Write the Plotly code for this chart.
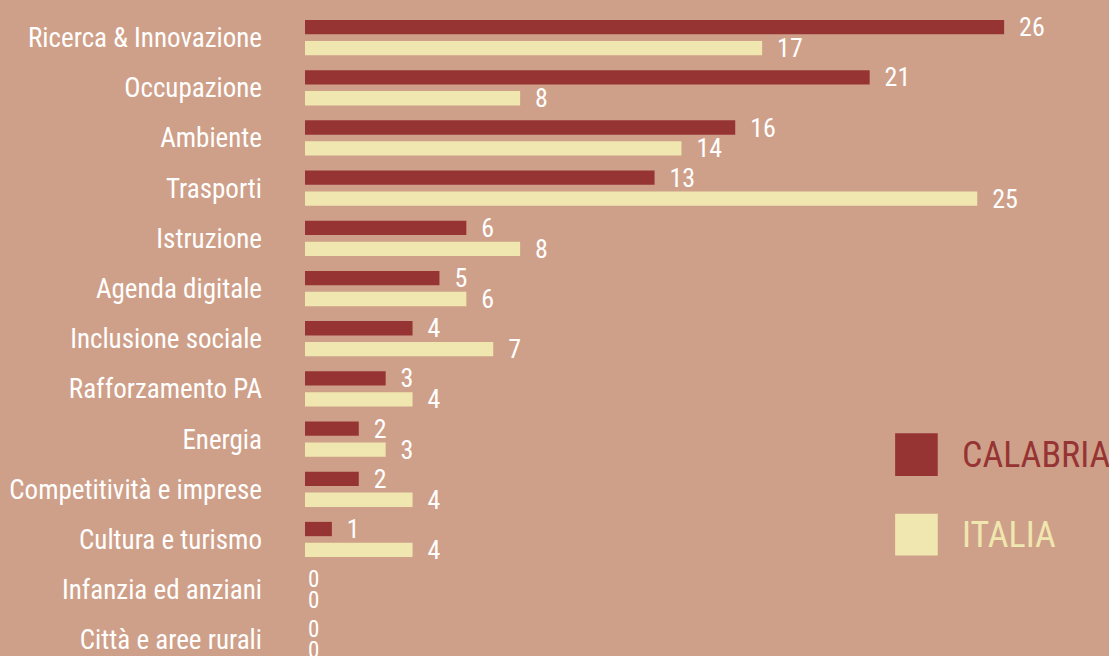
import plotly.graph_objects as go

categories = ["Ricerca & Innovazione", "Occupazione", "Ambiente", "Trasporti", "Istruzione",
              "Agenda digitale", "Inclusione sociale", "Rafforzamento PA", "Energia",
              "Competitività e imprese", "Cultura e turismo", "Infanzia ed anziani",
              "Città e aree rurali"]
calabria = [26, 21, 16, 13, 6, 5, 4, 3, 2, 2, 1, 0, 0]
italia = [17, 8, 14, 25, 8, 6, 7, 4, 3, 4, 4, 0, 0]
series_names = ["CALABRIA", "ITALIA"]

BG = "#CFA089"
RED = "#963434"
YEL = "#F0E6AF"
FONT = "Roboto Condensed, Liberation Sans, sans-serif"

def labels(vals):
    return [("\u00a0\u00a0" + str(v)) if v else str(v) for v in vals]

def label_sizes(vals):
    return [26 if v else 23 for v in vals]

fig = go.Figure()
for name, vals, col in [(series_names[0], calabria, RED), (series_names[1], italia, YEL)]:
    fig.add_trace(go.Bar(
        y=categories, x=vals, orientation="h", name=name,
        marker=dict(color=col, line=dict(width=0)),
        text=labels(vals), textposition="outside", cliponaxis=False,
        constraintext="none",
        textfont=dict(color="white", size=label_sizes(vals), family=FONT),
        showlegend=False, hoverinfo="x+y",
    ))

fig.update_layout(
    width=1109, height=656, autosize=False,
    margin=dict(l=305, r=0, t=0, b=0, pad=0),
    paper_bgcolor=BG, plot_bgcolor=BG,
    barmode="group", bargap=0.167, bargroupgap=0.316,
    font=dict(family=FONT, color="white", size=27),
    xaxis=dict(range=[0, 29.9], showgrid=False, zeroline=False, showticklabels=False,
               showline=False, fixedrange=True),
    yaxis=dict(categoryorder="array", categoryarray=categories,
               range=[12.242, -0.749], showgrid=False, zeroline=False, showline=False,
               ticks="", ticklabelstandoff=42, fixedrange=True,
               tickfont=dict(size=27, color="white", family=FONT)),
)

# legend drawn as shapes + annotations
legend_items = [(series_names[0], RED, 0.3355, 0.270), (series_names[1], YEL, 0.212, 0.148)]
for name, col, y1, y0 in legend_items:
    fig.add_shape(type="rect", xref="paper", yref="paper", x0=0.734, x1=0.787, y0=y0, y1=y1,
                  fillcolor=col, line=dict(width=0))
    fig.add_annotation(text=name, xref="paper", yref="paper", x=0.815, y=(y0 + y1) / 2,
                       xanchor="left", yanchor="middle", showarrow=False,
                       font=dict(size=36, color=col, family=FONT))

fig.write_html("out.html", config={"displayModeBar": False},
               post_script="document.body.style.margin='0';document.body.style.overflow='hidden';")
